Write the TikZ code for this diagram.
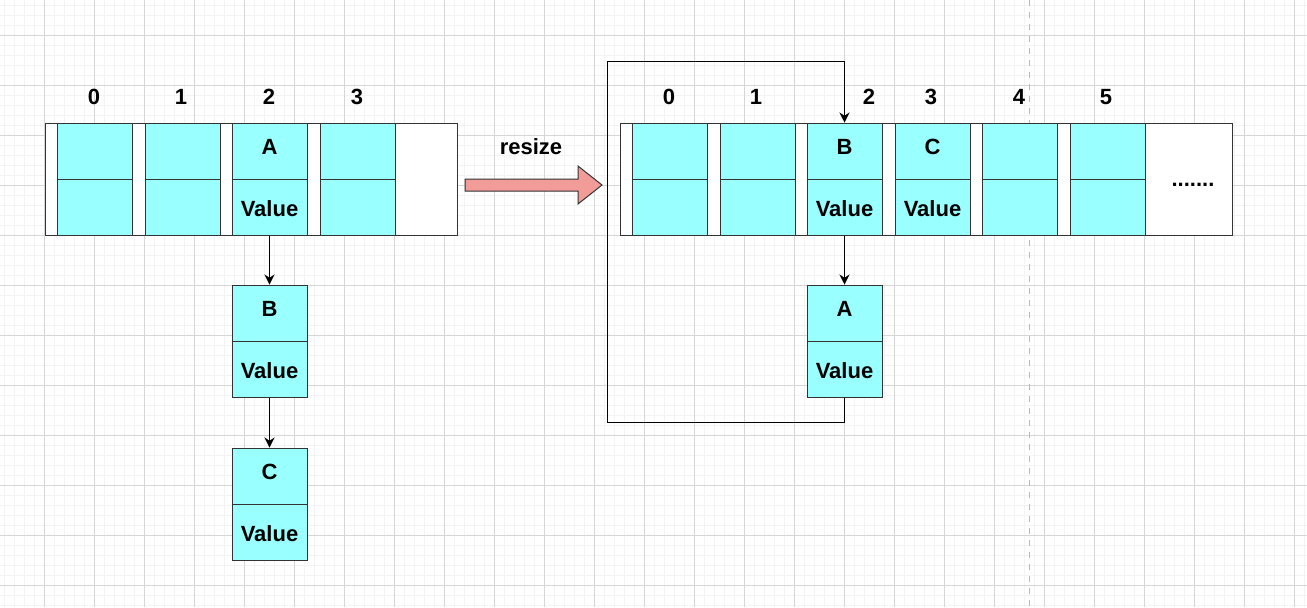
\documentclass[tikz,border=0pt]{standalone}
\usepackage{fontspec}
\setmainfont{Liberation Sans}
\usetikzlibrary{arrows.meta}
\definecolor{cellfill}{HTML}{99FFFF}
\definecolor{linegray}{HTML}{333333}
\definecolor{arrowpink}{HTML}{F19C99}
\definecolor{gridmajor}{HTML}{D6D6D6}
\definecolor{gridminor}{HTML}{F3F3F3}
\begin{document}
\begin{tikzpicture}[
    x=0.5pt, y=-0.5pt,
    txt/.style={font=\fontsize{11}{13}\bfseries\selectfont, inner sep=0pt},
    keytxt/.style={txt, yshift=2pt},
    valtxt/.style={txt, yshift=-1pt},
    cell/.style={draw=linegray, fill=cellfill, line width=0.5pt,
                 minimum width=37.5pt, minimum height=28pt, inner sep=0pt},
    frame/.style={draw=linegray, fill=white, line width=0.5pt,
                  minimum height=56pt, inner sep=0pt},
    link/.style={draw=black, line width=0.5pt, -{Stealth[length=5pt,width=5pt]}},
    >=stealth
]

% canvas
\useasboundingbox (0,0) rectangle (1307,607);
\fill[white] (0,0) rectangle (1307,607);

% grid lines
\foreach \gx in {4,14,...,1304} \draw[gridminor, line width=0.5pt] (\gx,0) -- (\gx,607);
\foreach \gy in {5,15,...,605} \draw[gridminor, line width=0.5pt] (0,\gy) -- (1307,\gy);
\foreach \gx in {44,94,...,1304} \draw[gridmajor, line width=0.5pt] (\gx,0) -- (\gx,607);
\foreach \gy in {35,85,...,585} \draw[gridmajor, line width=0.5pt] (0,\gy) -- (1307,\gy);
\draw[gray!55, dashed, line width=0.5pt] (1029,0) -- (1029,607);

% rows
\def\rowKey{151}
\def\rowVal{207}
\def\rowIdx{97}

% --- OLD TABLE ---
\node[frame, minimum width=206pt] (oldtab) at (251,179) {};
\foreach \i/\cx in {0/94.5,1/182.5,2/269.5,3/357.5} {
  \node[cell] (ok\i) at (\cx,\rowKey) {};
  \node[cell] (ov\i) at (\cx,\rowVal) {};
}
\node[txt] (oi0) at (94,\rowIdx) {0};
\node[txt] (oi1) at (181,\rowIdx) {1};
\node[txt] (oi2) at (269,\rowIdx) {2};
\node[txt] (oi3) at (357,\rowIdx) {3};
\node[keytxt] (okA) at (ok2) {A};
\node[valtxt] (ovA) at (ov2) {Value};

% --- OLD CHAIN ---
\node[cell] (obk) at (269.5,313) {};
\node[cell] (obv) at (269.5,369) {};
\node[cell] (ock) at (269.5,476) {};
\node[cell] (ocv) at (269.5,532) {};
\node[keytxt] (obkB) at (obk) {B};
\node[valtxt] (obvB) at (obv) {Value};
\node[keytxt] (ockC) at (ock) {C};
\node[valtxt] (ocvC) at (ocv) {Value};

\draw[link] (ov2.south) -- (obk.north);
\draw[link] (obv.south) -- (ock.north);

% --- RESIZE ---
\node[txt] (rsz) at (531,147) {resize};
\draw[draw=linegray, fill=arrowpink, line width=0.5pt]
  (465,179) -- (578,179) -- (578,166) -- (602,185)
  -- (578,204) -- (578,191) -- (465,191) -- cycle;

% --- NEW TABLE ---
\node[frame, minimum width=306pt] (newtab) at (926,179) {};
\foreach \i/\cx in {0/669.5,1/757.5,2/844.5,3/932.5,4/1019.5,5/1107.5} {
  \node[cell] (nk\i) at (\cx,\rowKey) {};
  \node[cell] (nv\i) at (\cx,\rowVal) {};
}
\node[txt] (ni0) at (669,\rowIdx) {0};
\node[txt] (ni1) at (756,\rowIdx) {1};
\node[txt] (ni2) at (869,\rowIdx) {2};
\node[txt] (ni3) at (931,\rowIdx) {3};
\node[txt] (ni4) at (1019,\rowIdx) {4};
\node[txt] (ni5) at (1106,\rowIdx) {5};
\node[keytxt] (nkB) at (nk2) {B};
\node[valtxt] (nvB) at (nv2) {Value};
\node[keytxt] (nkC) at (nk3) {C};
\node[valtxt] (nvC) at (nv3) {Value};
\node[txt, anchor=base] (more) at (1193,186) {.......};

% --- NEW CHAIN ---
\node[cell] (nak) at (844.5,313) {};
\node[cell] (nav) at (844.5,369) {};
\node[keytxt] (nakA) at (nak) {A};
\node[valtxt] (navA) at (nav) {Value};

\draw[link] (nv2.south) -- (nak.north);

\coordinate (loopbot) at (607,422);
\coordinate (looptop) at (607,61);
\draw[link] (nav.south) |- (loopbot) -- (looptop) -| (nk2.north);

\end{tikzpicture}
\end{document}
